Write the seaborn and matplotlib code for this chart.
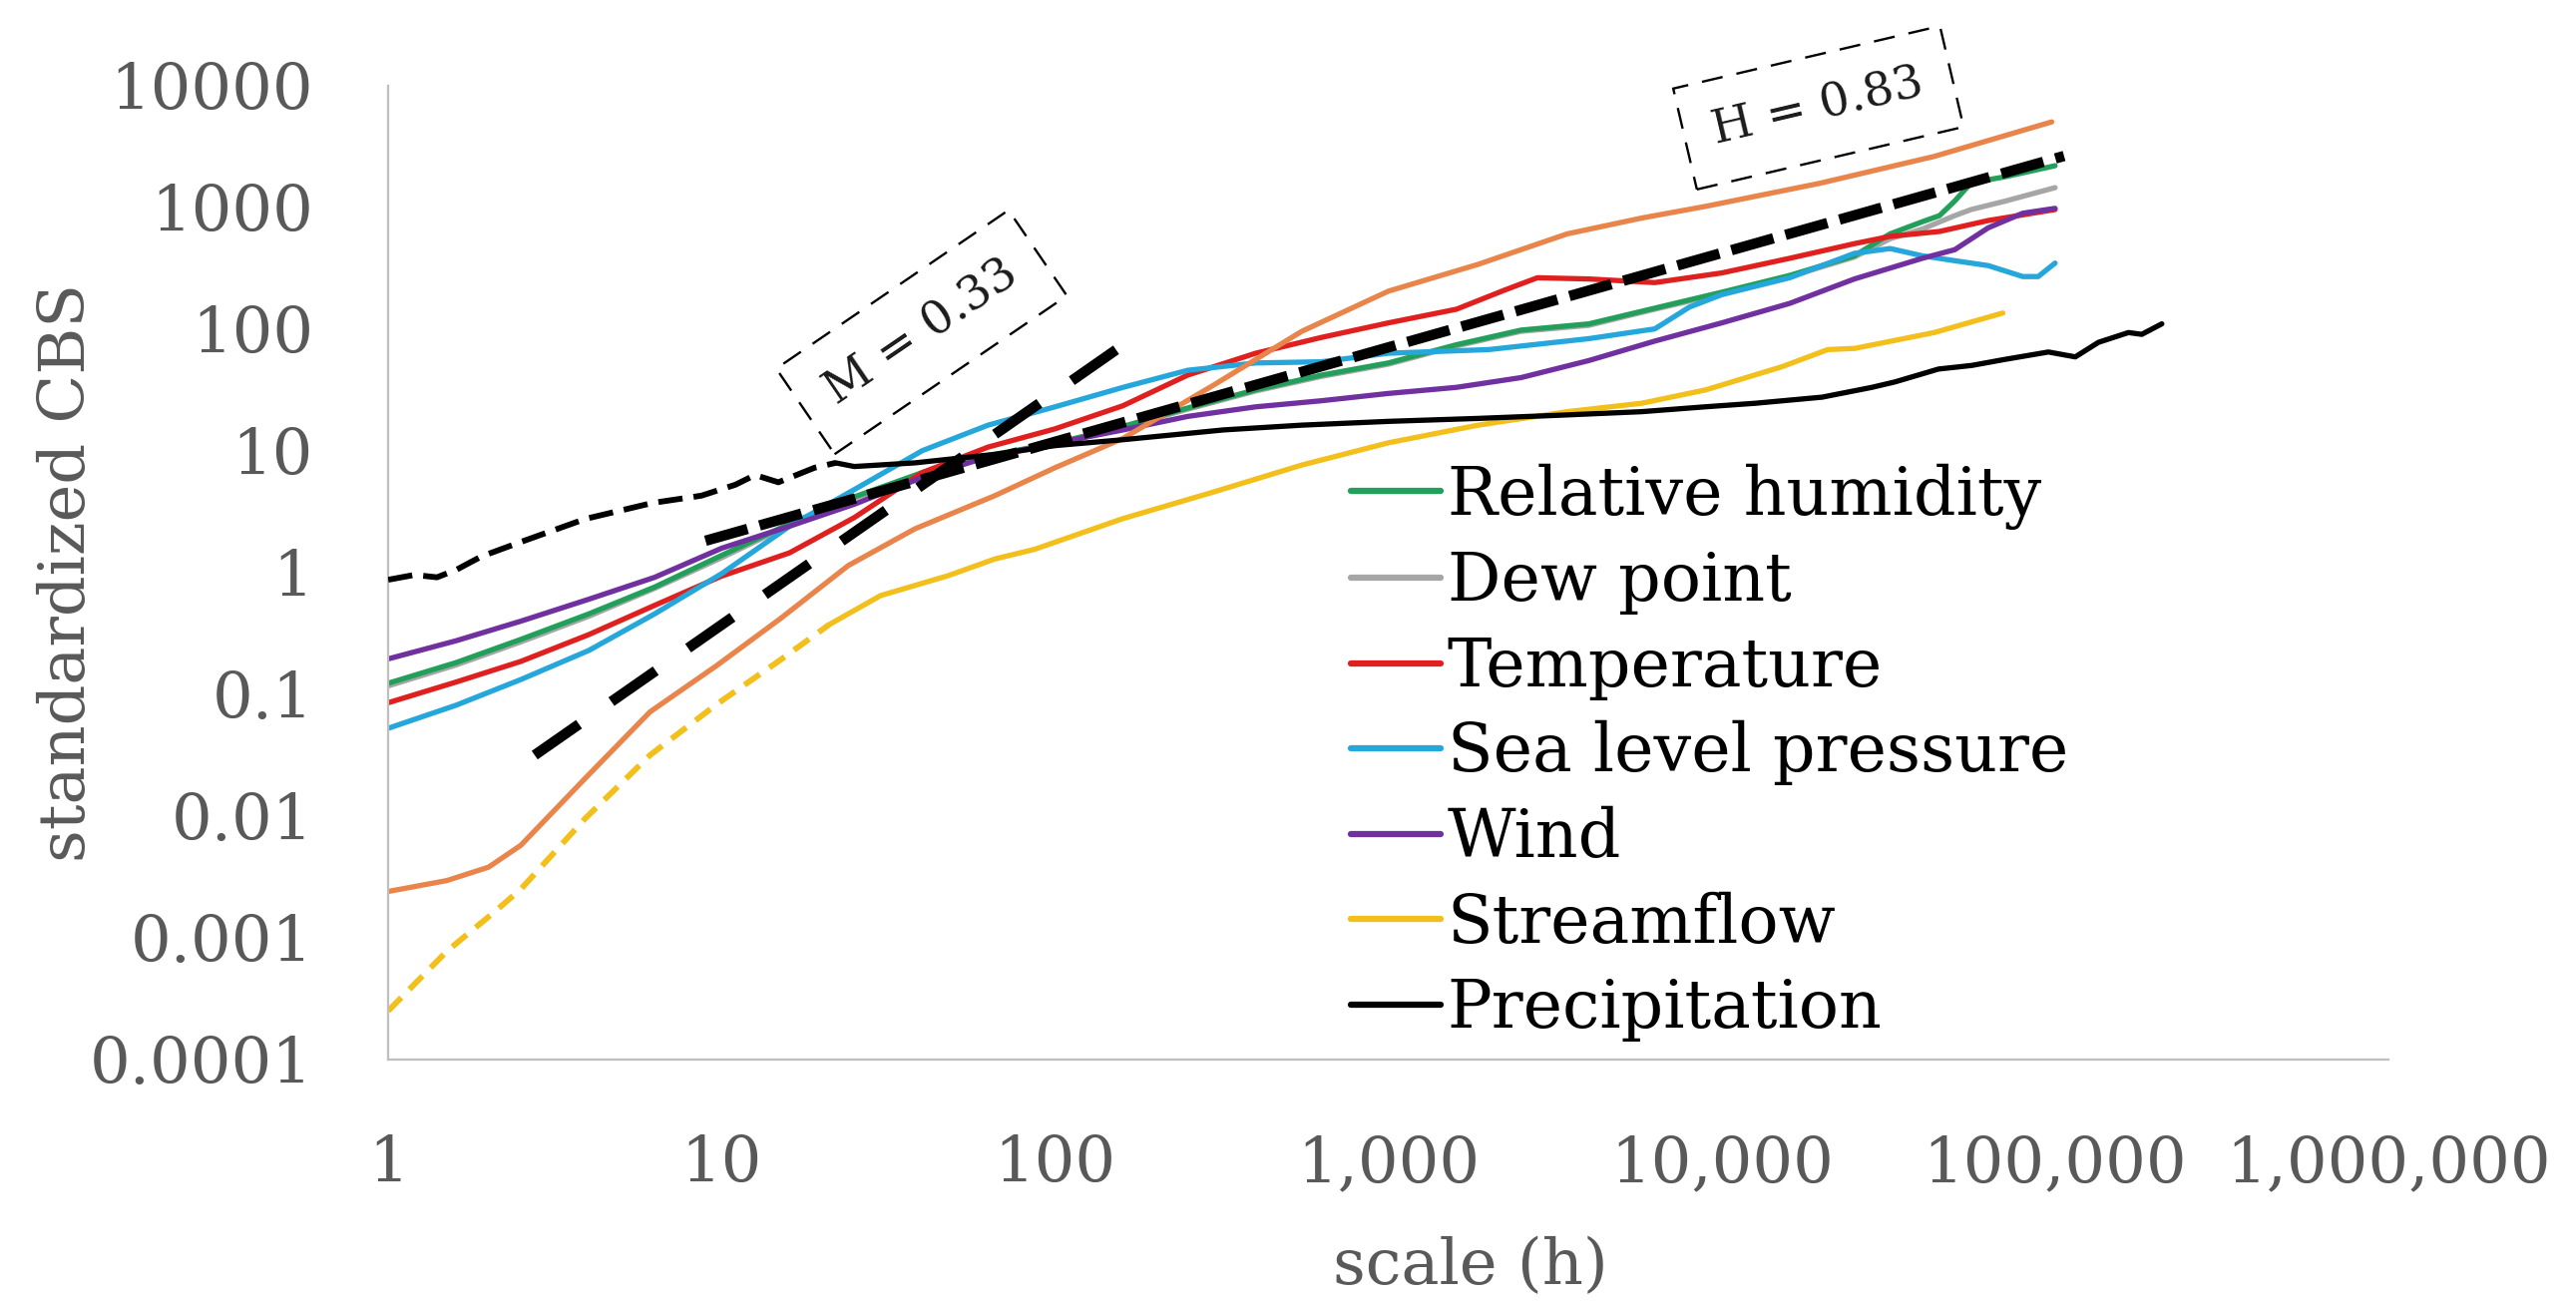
import matplotlib
matplotlib.use("Agg")
import matplotlib.pyplot as plt
from matplotlib.ticker import NullLocator
import seaborn as sns

# ---------------- data ----------------
series_names = ["Relative humidity", "Dew point", "Temperature",
                "Sea level pressure", "Wind", "Streamflow", "Precipitation"]

rh_x = [1, 1.6, 2.5, 4, 6.3, 10, 16, 25, 40, 63, 100, 160, 250, 400, 630, 1000,
        1600, 2500, 4000, 6300, 10000, 16000, 25000, 32000, 40000, 45000, 50000,
        56000, 71000, 100000]
rh_y = [0.123, 0.182, 0.282, 0.457, 0.759, 1.38, 2.51, 4.17, 6.61, 9.12, 11.5,
        15.8, 22.4, 31.6, 41.7, 52.5, 74.1, 97.7, 110, 148, 200, 275, 398, 603,
        759, 851, 1122, 1585, 1778, 2188]

dew_x = [1, 1.6, 2.5, 4, 6.3, 10, 16, 25, 40, 63, 100, 160, 250, 400, 630, 1000,
         1600, 2500, 4000, 6300, 10000, 16000, 25000, 32000, 40000, 50000, 56000,
         71000, 100000]
dew_y = [0.117, 0.174, 0.269, 0.437, 0.741, 1.32, 2.45, 4.07, 6.46, 8.91, 11.2,
         15.5, 21.9, 30.9, 40.7, 51.3, 72.4, 95.5, 107, 145, 195, 269, 389, 550,
         661, 851, 955, 1122, 1445]

temp_x = [1, 1.6, 2.5, 4, 6.3, 10, 16, 25, 40, 63, 100, 160, 250, 400, 630, 1000,
          1600, 2240, 2800, 4000, 6300, 10000, 16000, 25000, 32000, 45000, 63000,
          100000]
temp_y = [0.0851, 0.126, 0.186, 0.309, 0.537, 0.933, 1.45, 2.82, 6.61, 10.7,
          15.1, 23.4, 41.7, 63.1, 85.1, 112, 145, 209, 263, 257, 240, 288, 380,
          501, 575, 631, 776, 955]

slp_x = [1, 1.6, 2.5, 4, 6.3, 10, 16, 25, 40, 63, 100, 160, 250, 400, 630, 1000,
         2000, 4000, 6300, 8000, 10000, 16000, 25000, 32000, 40000, 50000, 63000,
         80000, 89000, 100000]
slp_y = [0.0525, 0.0813, 0.132, 0.229, 0.457, 0.977, 2.40, 4.79, 10.0, 16.2,
         22.9, 33.1, 45.7, 52.5, 53.7, 63.1, 67.6, 83.2, 100, 151, 191, 263, 417,
         457, 398, 363, 331, 269, 269, 347]

wind_x = [1, 1.6, 2.5, 4, 6.3, 10, 16, 25, 40, 63, 100, 160, 250, 400, 630, 1000,
          1600, 2500, 4000, 6300, 10000, 16000, 25000, 40000, 50000, 63000, 80000,
          100000]
wind_y = [0.195, 0.275, 0.398, 0.603, 0.912, 1.58, 2.40, 3.63, 6.03, 8.91, 11.5,
          14.8, 19.1, 22.9, 25.7, 29.5, 33.1, 39.8, 55.0, 79.4, 112, 162, 257,
          380, 447, 676, 891, 977]

# streamflow: dashed at short scales, solid afterwards
flow_dash_x = [1, 1.5, 2.1, 2.5, 3.9, 6.1, 9.7, 15, 21]
flow_dash_y = [0.000251, 0.000776, 0.00166, 0.00251, 0.00955, 0.0316, 0.0832,
               0.191, 0.372]
flow_x = [21, 30, 48, 66, 87, 160, 300, 550, 1000, 1860, 3440, 5750, 8970,
          15200, 20800, 25100, 43400, 69700]
flow_y = [0.372, 0.646, 0.944, 1.29, 1.55, 2.77, 4.59, 7.62, 11.6, 16.2, 20.9,
          24.5, 31.6, 49.0, 67.6, 69.2, 93.3, 135]

# precipitation: dashed at short scales, solid afterwards
prec_dash_x = [1, 1.2, 1.4, 1.6, 1.9, 2.5, 3.9, 6.2, 8.7, 11, 12.6, 14.8, 19, 22]
prec_dash_y = [0.871, 0.955, 0.912, 1.05, 1.35, 1.78, 2.75, 3.72, 4.27, 5.25,
               6.31, 5.50, 7.24, 7.94]
prec_x = [22, 25, 38, 66, 100, 160, 320, 550, 1000, 1860, 3200, 5750, 8900,
          12600, 20000, 28200, 33100, 44700, 56200, 70800, 95500, 115000,
          135000, 166000, 182000, 209000]
prec_y = [7.94, 7.41, 7.94, 9.33, 11.0, 12.3, 14.8, 16.2, 17.4, 18.4, 19.5,
          20.9, 22.9, 24.5, 27.5, 33.1, 36.7, 46.8, 50.1, 56.2, 64.6, 58.9,
          77.6, 93.3, 90.2, 110]

# unlabeled orange series
orange_x = [1, 1.5, 2, 2.5, 3.9, 6.1, 9.7, 15, 24, 38, 66, 100, 160, 300, 550,
            1000, 1860, 3440, 5750, 8970, 19700, 43400, 97700]
orange_y = [0.0024, 0.00295, 0.0038, 0.00575, 0.0204, 0.0716, 0.173, 0.417,
            1.14, 2.28, 4.27, 7.24, 12.6, 34.7, 95.5, 204, 339, 603, 813, 1016,
            1570, 2610, 5010]

# fitted reference lines
m_line_x = [2.75, 164]
m_line_y = [0.0316, 77.3]
h_line_x = [8.95, 106400]
h_line_y = [1.82, 2630]
m_label = "M = 0.33"
h_label = "H = 0.83"

x_ticks = [1, 10, 100, 1000, 10000, 100000, 1000000]
x_tick_labels = ["1", "10", "100", "1,000", "10,000", "100,000", "1,000,000"]
y_ticks = [0.0001, 0.001, 0.01, 0.1, 1, 10, 100, 1000, 10000]
y_tick_labels = ["0.0001", "0.001", "0.01", "0.1", "1", "10", "100", "1000", "10000"]

colors = {
    "Relative humidity": "#22a05b",
    "Dew point": "#a6a6a6",
    "Temperature": "#e0201f",
    "Sea level pressure": "#25a7dc",
    "Wind": "#7030a0",
    "Streamflow": "#f2bf1b",
    "Precipitation": "#000000",
}
orange_color = "#e9854a"

# ---------------- styling ----------------
sns.set_theme(style="white")
plt.rcParams["font.family"] = ["DejaVu Serif"]

fig = plt.figure(figsize=(25.82, 13.04), dpi=100)
ax = fig.add_axes([0.1507, 0.1856, 0.7765, 0.7488])
ax.set_xscale("log")
ax.set_yscale("log")

LW = 3.8


def draw(x, y, color, lw=LW, dashes=None, z=2):
    sns.lineplot(x=x, y=y, ax=ax, color=color, linewidth=lw, estimator=None,
                 sort=False, legend=False, zorder=z)
    line = ax.lines[-1]
    if dashes is not None:
        line.set_dashes(dashes)
    return line


handles = {}
handles["Dew point"] = draw(dew_x, dew_y, colors["Dew point"], z=2.0)
handles["Relative humidity"] = draw(rh_x, rh_y, colors["Relative humidity"], z=2.1)
handles["Temperature"] = draw(temp_x, temp_y, colors["Temperature"], z=2.2)
handles["Sea level pressure"] = draw(slp_x, slp_y, colors["Sea level pressure"], z=2.3)
handles["Wind"] = draw(wind_x, wind_y, colors["Wind"], z=2.4)
draw(orange_x, orange_y, orange_color, z=2.45)
draw(flow_dash_x, flow_dash_y, colors["Streamflow"], lw=4.2, dashes=(3.2, 2.0), z=2.5)
handles["Streamflow"] = draw(flow_x, flow_y, colors["Streamflow"], z=2.5)
draw(prec_dash_x, prec_dash_y, colors["Precipitation"], lw=4.2, dashes=(4.2, 1.9), z=2.6)
handles["Precipitation"] = draw(prec_x, prec_y, colors["Precipitation"], z=2.6)

# reference slopes
draw(m_line_x, m_line_y, "black", lw=7.5, dashes=(5.2, 3.8), z=5)
draw(h_line_x, h_line_y, "black", lw=7.5, dashes=(4.2, 1.2), z=5)

ax.set_xlim(1, 1e6)
ax.set_ylim(1e-4, 1e4)
ax.set_xticks(x_ticks)
ax.set_xticklabels(x_tick_labels)
ax.set_yticks(y_ticks)
ax.set_yticklabels(y_tick_labels)
ax.xaxis.set_minor_locator(NullLocator())
ax.yaxis.set_minor_locator(NullLocator())
ax.tick_params(axis="both", length=0, labelsize=46, labelcolor="#595959", pad=54)

for s in ["top", "right"]:
    ax.spines[s].set_visible(False)
for s in ["left", "bottom"]:
    ax.spines[s].set_color("#bfbfbf")
    ax.spines[s].set_linewidth(1.6)
ax.grid(False)

ax.set_xlabel("scale (h)", fontsize=46, color="#595959")
ax.xaxis.set_label_coords(0.541, -0.181)
ax.set_ylabel("standardized CBS", fontsize=46, color="#595959")
ax.yaxis.set_label_coords(-0.145, 0.5)

box_kw = dict(boxstyle="square,pad=0.62", fc="none", ec="black", lw=1.7,
              ls=(0, (9, 6)))
ax.text(39.8, 94, m_label, rotation=34.3, rotation_mode="anchor", ha="center",
        va="center", fontsize=34, color="#1a1a1a", bbox=box_kw, zorder=6)
ax.text(19500, 6550, h_label, rotation=13.2, rotation_mode="anchor", ha="center",
        va="center", fontsize=34, color="#1a1a1a", bbox=box_kw, zorder=6)

leg = ax.legend([handles[n] for n in series_names], series_names,
                loc="upper left", bbox_to_anchor=(0.4813, 0.612), frameon=False,
                fontsize=48, handlelength=1.35, handletextpad=0.1,
                labelspacing=0.305, borderpad=0, borderaxespad=0)
for t in leg.get_texts():
    t.set_color("black")
for l in leg.get_lines():
    l.set_linewidth(4.5)

fig.savefig("out.png", dpi=100)
